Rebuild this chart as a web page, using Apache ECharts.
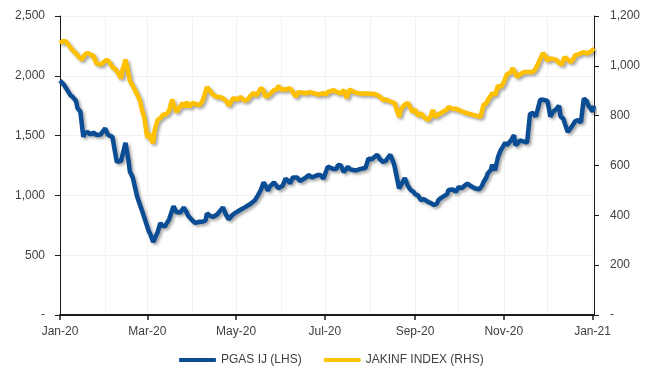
<!DOCTYPE html>
<html>
<head>
<meta charset="utf-8">
<script src="https://cdn.jsdelivr.net/npm/echarts@6/dist/echarts.min.js"></script>
<style>
html, body { margin: 0; padding: 0; background: #fff; }
#chart { width: 654px; height: 376px; }
</style>
</head>
<body>
<div id="chart"></div>
<script>
// PGAS IJ (LHS)
var pgasDates = [
'2020-01-01','2020-01-04','2020-01-06','2020-01-08','2020-01-10','2020-01-12','2020-01-13','2020-01-15','2020-01-17','2020-01-18',
'2020-01-20','2020-01-22','2020-01-24','2020-01-26','2020-01-29','2020-02-01','2020-02-03','2020-02-06','2020-02-09','2020-02-12',
'2020-02-15','2020-02-17','2020-02-18','2020-02-20','2020-02-23','2020-02-25','2020-02-27','2020-03-02','2020-03-03','2020-03-05',
'2020-03-06','2020-03-08','2020-03-10','2020-03-11','2020-03-13','2020-03-16','2020-03-19','2020-03-21','2020-03-22','2020-03-24',
'2020-03-26','2020-03-28','2020-03-29','2020-04-01','2020-04-03','2020-04-06','2020-04-08','2020-04-10','2020-04-11','2020-04-13',
'2020-04-15','2020-04-18','2020-04-20','2020-04-22','2020-04-24','2020-04-26','2020-04-28','2020-04-30','2020-05-04','2020-05-07',
'2020-05-11','2020-05-14','2020-05-16','2020-05-18','2020-05-20','2020-05-21','2020-05-23','2020-05-24','2020-05-27','2020-05-28',
'2020-05-30','2020-06-02','2020-06-04','2020-06-06','2020-06-07','2020-06-09','2020-06-12','2020-06-14','2020-06-15','2020-06-18',
'2020-06-20','2020-06-22','2020-06-23','2020-06-26','2020-06-28','2020-06-30','2020-07-01','2020-07-03','2020-07-05','2020-07-07',
'2020-07-09','2020-07-10','2020-07-12','2020-07-14','2020-07-15','2020-07-17','2020-07-18','2020-07-21','2020-07-23','2020-07-25',
'2020-07-27','2020-07-29','2020-07-31','2020-08-02','2020-08-03','2020-08-06','2020-08-08','2020-08-10','2020-08-12','2020-08-13',
'2020-08-15','2020-08-17','2020-08-18','2020-08-21','2020-08-23','2020-08-25','2020-08-27','2020-08-29','2020-08-31','2020-09-01',
'2020-09-03','2020-09-05','2020-09-07','2020-09-08','2020-09-10','2020-09-12','2020-09-14','2020-09-16','2020-09-17','2020-09-19',
'2020-09-20','2020-09-23','2020-09-24','2020-09-25','2020-09-27','2020-09-29','2020-10-01','2020-10-03','2020-10-05','2020-10-07',
'2020-10-09','2020-10-10','2020-10-12','2020-10-15','2020-10-17','2020-10-18','2020-10-20','2020-10-21','2020-10-23','2020-10-24',
'2020-10-26','2020-10-28','2020-10-30','2020-10-31','2020-11-02','2020-11-03','2020-11-06','2020-11-08','2020-11-09','2020-11-11',
'2020-11-12','2020-11-15','2020-11-17','2020-11-19','2020-11-21','2020-11-23','2020-11-25','2020-11-26','2020-11-28','2020-12-01',
'2020-12-03','2020-12-05','2020-12-07','2020-12-09','2020-12-10','2020-12-12','2020-12-13','2020-12-15','2020-12-18','2020-12-19',
'2020-12-20','2020-12-22','2020-12-24','2020-12-26','2020-12-28','2020-12-29','2020-12-31','2021-01-01','2021-01-02'
];
var pgasValues = [
1960,1920,1880,1840,1820,1790,1730,1700,1490,1520,
1530,1510,1525,1505,1510,1560,1505,1490,1280,1290,
1440,1300,1200,1150,990,920,850,700,680,610,
600,690,770,750,740,800,910,860,850,860,
900,860,830,790,770,780,780,790,850,830,
820,840,870,900,840,800,830,850,880,900,
930,960,1000,1045,1110,1120,1040,1070,1110,1120,
1060,1080,1140,1120,1100,1150,1150,1120,1110,1150,
1170,1150,1150,1170,1170,1140,1150,1240,1230,1220,
1220,1255,1250,1195,1200,1240,1220,1210,1210,1220,
1225,1230,1310,1300,1310,1340,1300,1280,1290,1310,
1340,1280,1240,1060,1100,1145,1080,1045,1030,1010,
1000,960,970,960,945,935,920,930,960,980,
990,1010,1045,1040,1050,1030,1070,1060,1080,1100,
1080,1070,1060,1050,1080,1110,1150,1185,1210,1255,
1210,1320,1380,1400,1440,1420,1460,1505,1420,1440,
1460,1450,1440,1680,1690,1660,1750,1800,1800,1790,
1660,1700,1720,1750,1660,1640,1600,1530,1580,1600,
1620,1630,1610,1810,1790,1755,1720,1700,1750
];

// JAKINF INDEX (RHS)
var jakinfDates = [
'2020-01-01','2020-01-03','2020-01-05','2020-01-08','2020-01-10','2020-01-12','2020-01-14','2020-01-16','2020-01-18','2020-01-20',
'2020-01-22','2020-01-24','2020-01-26','2020-01-29','2020-01-31','2020-02-02','2020-02-04','2020-02-06','2020-02-09','2020-02-11',
'2020-02-12','2020-02-13','2020-02-15','2020-02-16','2020-02-18','2020-02-20','2020-02-23','2020-02-25','2020-02-26','2020-02-28',
'2020-03-01','2020-03-02','2020-03-04','2020-03-05','2020-03-06','2020-03-08','2020-03-10','2020-03-12','2020-03-14','2020-03-16',
'2020-03-18','2020-03-19','2020-03-21','2020-03-24','2020-03-25','2020-03-27','2020-03-28','2020-03-30','2020-04-01','2020-04-04',
'2020-04-06','2020-04-08','2020-04-11','2020-04-13','2020-04-15','2020-04-18','2020-04-20','2020-04-22','2020-04-24','2020-04-26',
'2020-04-28','2020-04-29','2020-05-02','2020-05-04','2020-05-07','2020-05-09','2020-05-11','2020-05-13','2020-05-15','2020-05-18',
'2020-05-20','2020-05-21','2020-05-23','2020-05-24','2020-05-27','2020-05-29','2020-05-30','2020-06-01','2020-06-02','2020-06-04',
'2020-06-07','2020-06-09','2020-06-11','2020-06-13','2020-06-15','2020-06-18','2020-06-19','2020-06-21','2020-06-23','2020-06-24',
'2020-06-27','2020-06-30','2020-07-02','2020-07-03','2020-07-05','2020-07-07','2020-07-09','2020-07-10','2020-07-12','2020-07-14',
'2020-07-15','2020-07-16','2020-07-18','2020-07-21','2020-07-23','2020-07-25','2020-07-27','2020-07-29','2020-08-01','2020-08-03',
'2020-08-05','2020-08-07','2020-08-08','2020-08-10','2020-08-12','2020-08-14','2020-08-16','2020-08-18','2020-08-21','2020-08-22',
'2020-08-23','2020-08-25','2020-08-27','2020-08-29','2020-08-30','2020-09-01','2020-09-03','2020-09-05','2020-09-06','2020-09-08',
'2020-09-10','2020-09-12','2020-09-13','2020-09-15','2020-09-17','2020-09-18','2020-09-20','2020-09-23','2020-09-24','2020-09-25',
'2020-09-27','2020-09-29','2020-10-01','2020-10-04','2020-10-06','2020-10-08','2020-10-11','2020-10-13','2020-10-16','2020-10-18',
'2020-10-20','2020-10-21','2020-10-23','2020-10-24','2020-10-26','2020-10-28','2020-10-30','2020-11-01','2020-11-02','2020-11-03',
'2020-11-06','2020-11-07','2020-11-09','2020-11-10','2020-11-12','2020-11-15','2020-11-16','2020-11-18','2020-11-21','2020-11-23',
'2020-11-25','2020-11-27','2020-11-28','2020-11-30','2020-12-01','2020-12-03','2020-12-04','2020-12-07','2020-12-09','2020-12-11',
'2020-12-12','2020-12-13','2020-12-15','2020-12-17','2020-12-19','2020-12-20','2020-12-22','2020-12-24','2020-12-26','2020-12-28',
'2020-12-29','2020-12-31','2021-01-01','2021-01-02'
];
var jakinfValues = [
1090,1100,1098,1075,1060,1050,1035,1025,1045,1052,
1045,1040,1010,1005,1015,1025,1015,995,980,960,
950,985,1025,1000,940,920,885,860,830,790,
710,730,700,690,740,782,790,805,805,820,
865,860,815,840,850,835,855,835,851,845,
843,860,915,900,885,875,875,870,860,840,
860,870,865,875,860,865,880,891,880,911,
900,876,880,878,903,905,920,905,900,905,
910,895,875,895,893,890,892,895,890,891,
885,890,885,895,898,903,895,895,890,903,
885,871,905,895,891,890,888,890,888,888,
885,880,875,863,865,860,855,850,795,820,
831,845,851,830,815,825,800,810,803,790,
783,800,823,795,805,811,815,825,835,835,
827,828,823,815,811,808,803,800,795,843,
850,863,880,891,883,920,915,935,943,965,
975,991,970,955,965,975,983,975,975,990,
1015,1040,1051,1035,1020,1030,1031,1025,1011,1005,
1025,1035,1025,1015,1030,1043,1045,1051,1055,1050,
1055,1058,1060,1071
];

var startDate = '2020-01-01';
var endDate = '2021-01-02';
var monthNames = ['Jan','Feb','Mar','Apr','May','Jun','Jul','Aug','Sep','Oct','Nov','Dec'];

// one category per calendar day
var days = [];
var t = Date.parse(startDate + 'T00:00:00Z');
var tEnd = Date.parse(endDate + 'T00:00:00Z');
while (t <= tEnd) {
	days.push(new Date(t).toISOString().slice(0, 10));
	t += 86400000;
}

function isMonthStart(idx, val) {
	return val.slice(8) === '01';
}
function isOddMonthStart(idx, val) {
	return val.slice(8) === '01' && parseInt(val.slice(5, 7), 10) % 2 === 1;
}

var font = "'Liberation Sans', Arial, sans-serif";
var textColor = '#404040';
var blue = '#0b4d94';
var gold = '#ffc000';

var dom = document.getElementById('chart');
var myChart = echarts.init(dom);
var option = {
	animation: false,
	textStyle: { fontFamily: font },
	grid: { left: 60, right: 60, top: 16, bottom: 61 },
	legend: {
		bottom: 5,
		left: 174,
		icon: 'roundRect',
		itemWidth: 37,
		itemHeight: 4,
		itemGap: 22,
		textStyle: { color: textColor, fontSize: 12, fontFamily: font },
		data: ['PGAS IJ (LHS)', 'JAKINF INDEX (RHS)']
	},
	xAxis: {
		type: 'category',
		data: days,
		boundaryGap: false,
		axisLine: { lineStyle: { color: '#1a1a1a', width: 2 } },
		axisTick: { interval: isOddMonthStart, length: 5, lineStyle: { color: '#1a1a1a', width: 1.5 } },
		axisLabel: {
			interval: isOddMonthStart,
			margin: 11,
			color: textColor,
			fontSize: 12,
			fontFamily: font,
			formatter: function(v) {
				return monthNames[parseInt(v.slice(5, 7), 10) - 1] + '-' + v.slice(2, 4);
			}
		},
		splitLine: { show: true, interval: isMonthStart, lineStyle: { color: '#f2f2f2', width: 1 } }
	},
	yAxis: [{
		type: 'value',
		min: 0,
		max: 2500,
		interval: 500,
		axisLine: { show: true, lineStyle: { color: '#1a1a1a', width: 1 } },
		axisTick: { show: true, length: 5, lineStyle: { color: '#1a1a1a' } },
		axisLabel: {
			margin: 15,
			color: textColor,
			fontSize: 12,
			fontFamily: font,
			formatter: function(v) { return v === 0 ? '-' : v.toLocaleString('en-US'); }
		},
		splitLine: { lineStyle: { color: '#f2f2f2', width: 1 } }
	}, {
		type: 'value',
		min: 0,
		max: 1200,
		interval: 200,
		position: 'right',
		axisLine: { show: true, lineStyle: { color: '#1a1a1a', width: 1 } },
		axisTick: { show: true, length: 5, lineStyle: { color: '#1a1a1a' } },
		axisLabel: {
			margin: 16,
			color: textColor,
			fontSize: 12,
			fontFamily: font,
			formatter: function(v) { return v === 0 ? '-' : v.toLocaleString('en-US'); }
		},
		splitLine: { show: false }
	}],
	series: [{
		name: 'PGAS IJ (LHS)',
		type: 'line',
		yAxisIndex: 0,
		data: pgasDates.map(function(d, i) { return [d, pgasValues[i]]; }),
		showSymbol: false,
		symbol: 'none',
		color: blue,
		lineStyle: {
			width: 4.5,
			color: blue,
			shadowColor: 'rgba(0,0,0,0.35)',
			shadowBlur: 3,
			shadowOffsetX: 2,
			shadowOffsetY: 2
		}
	}, {
		name: 'JAKINF INDEX (RHS)',
		type: 'line',
		yAxisIndex: 1,
		data: jakinfDates.map(function(d, i) { return [d, jakinfValues[i]]; }),
		showSymbol: false,
		symbol: 'none',
		color: gold,
		lineStyle: {
			width: 4.5,
			color: gold,
			shadowColor: 'rgba(0,0,0,0.35)',
			shadowBlur: 3,
			shadowOffsetX: 2,
			shadowOffsetY: 2
		}
	}]
};

if (option && typeof option === 'object') {
	myChart.setOption(option, true);
}
</script>
</body>
</html>
